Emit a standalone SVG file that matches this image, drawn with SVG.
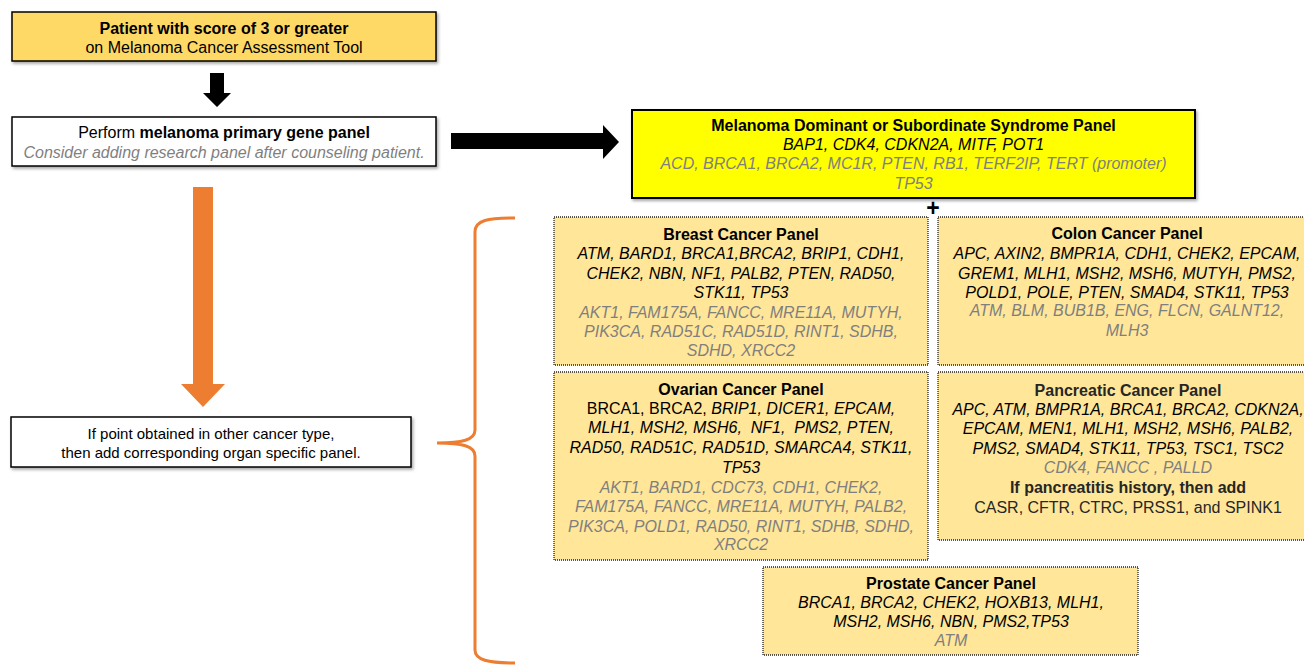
<svg xmlns="http://www.w3.org/2000/svg" width="1304" height="665" viewBox="0 0 1304 665">
<defs>
<filter id="sh" x="-5%" y="-20%" width="110%" height="150%">
<feDropShadow dx="1.5" dy="2" stdDeviation="1.5" flood-color="#000" flood-opacity="0.35"/>
</filter>
</defs>
<style>
text{font-family:"Liberation Sans",Arial,sans-serif;font-size:16px;fill:#000;text-anchor:middle}
.b{font-weight:bold}
.i{font-style:italic}
.g{fill:#7f7f7f}
.d{fill:#262626}
.flow{stroke:#000;stroke-width:1.5}
.panel{fill:#FFE699;stroke:#222;stroke-width:1.3;stroke-dasharray:1 1}
</style>
<rect width="1304" height="665" fill="#fff"/>

<g id="connectors">
<polygon points="210,73 224,73 224,93 231,93 217,107 203,93 210,93" fill="#000"/>
<polygon points="451,133 603,133 603,125 619,142 603,159 603,149 451,149" fill="#000"/>
<polygon points="193,187 213,187 213,384 225,384 203,407 181,384 193,384" fill="#ED7D31"/>
<path d="M515,218 C488,218 475,220 475,232 L475,430 C475,440 462,443 437,443 C462,443 475,446 475,456 L475,650 C475,660 488,663 515,663" fill="none" stroke="#ED7D31" stroke-width="3"/>
<text class="b" x="933" y="216" style="font-size:23px">+</text>
</g>

<g id="start">
<rect x="12" y="12" width="424" height="49" fill="#FFD966" class="flow" filter="url(#sh)"/>
<text class="b" x="224" y="34">Patient with score of 3 or greater</text>
<text x="224" y="53">on Melanoma Cancer Assessment Tool</text>
</g>

<g id="primary">
<rect x="12" y="117" width="424" height="49" fill="#fff" class="flow" filter="url(#sh)"/>
<text x="224" y="138">Perform <tspan class="b">melanoma primary gene panel</tspan></text>
<text class="i g" x="224" y="158">Consider adding research panel after counseling patient.</text>
</g>

<g id="organ">
<rect x="11" y="417" width="400" height="50" fill="#fff" class="flow" filter="url(#sh)"/>
<text x="211" y="439" style="font-size:15px">If point obtained in other cancer type,</text>
<text x="211" y="458" style="font-size:15px">then add corresponding organ specific panel.</text>
</g>

<g id="melanoma">
<rect x="632" y="110" width="563" height="88" fill="#FFFF00" stroke="#000" stroke-width="2" filter="url(#sh)"/>
<text class="b" x="913.5" y="131">Melanoma Dominant or Subordinate Syndrome Panel</text>
<text class="i" x="913.5" y="150">BAP1, CDK4, CDKN2A, MITF, POT1</text>
<text class="i g" x="913.5" y="169">ACD, BRCA1, BRCA2, MC1R, PTEN, RB1, TERF2IP, TERT (promoter)</text>
<text class="i g" x="913.5" y="189">TP53</text>
</g>

<g id="breast">
<rect x="554" y="217" width="374" height="148" class="panel"/>
<text class="b" x="741" y="240">Breast Cancer Panel</text>
<text class="i" x="741" y="259">ATM, BARD1, BRCA1,BRCA2, BRIP1, CDH1,</text>
<text class="i" x="741" y="279">CHEK2, NBN, NF1, PALB2, PTEN, RAD50,</text>
<text class="i" x="741" y="298">STK11, TP53</text>
<text class="i g" x="741" y="318">AKT1, FAM175A, FANCC, MRE11A, MUTYH,</text>
<text class="i g" x="741" y="337">PIK3CA, RAD51C, RAD51D, RINT1, SDHB,</text>
<text class="i g" x="741" y="356">SDHD, XRCC2</text>
</g>

<g id="colon">
<rect x="938" y="217" width="378" height="148" class="panel"/>
<text class="b" x="1127" y="239">Colon Cancer Panel</text>
<text class="i" x="1127" y="259">APC, AXIN2, BMPR1A, CDH1, CHEK2, EPCAM,</text>
<text class="i" x="1127" y="279">GREM1, MLH1, MSH2, MSH6, MUTYH, PMS2,</text>
<text class="i" x="1127" y="298">POLD1, POLE, PTEN, SMAD4, STK11, TP53</text>
<text class="i g" x="1127" y="316">ATM, BLM, BUB1B, ENG, FLCN, GALNT12,</text>
<text class="i g" x="1127" y="336">MLH3</text>
</g>

<g id="ovarian">
<rect x="554" y="372" width="374" height="188" class="panel"/>
<text class="b" x="741" y="395">Ovarian Cancer Panel</text>
<text x="741" y="414">BRCA1, BRCA2, <tspan class="i">BRIP1, DICER1, EPCAM,</tspan></text>
<text class="i" x="741" y="433" xml:space="preserve">MLH1, MSH2, MSH6,  NF1,  PMS2, PTEN,</text>
<text class="i" x="741" y="453">RAD50, RAD51C, RAD51D, SMARCA4, STK11,</text>
<text class="i" x="741" y="473">TP53</text>
<text class="i g" x="741" y="493">AKT1, BARD1, CDC73, CDH1, CHEK2,</text>
<text class="i g" x="741" y="512">FAM175A, FANCC, MRE11A, MUTYH, PALB2,</text>
<text class="i g" x="741" y="532">PIK3CA, POLD1, RAD50, RINT1, SDHB, SDHD,</text>
<text class="i g" x="741" y="550">XRCC2</text>
</g>

<g id="pancreatic">
<rect x="938" y="372" width="378" height="168" class="panel"/>
<text class="b d" x="1128" y="396">Pancreatic Cancer Panel</text>
<text class="i" x="1128" y="415">APC, ATM, BMPR1A, BRCA1, BRCA2, CDKN2A,</text>
<text class="i" x="1128" y="434">EPCAM, MEN1, MLH1, MSH2, MSH6, PALB2,</text>
<text class="i" x="1128" y="454">PMS2, SMAD4, STK11, TP53, TSC1, TSC2</text>
<text class="i g" x="1128" y="473" xml:space="preserve">CDK4, FANCC , PALLD</text>
<text class="b d" x="1128" y="493">If pancreatitis history, then add</text>
<text class="d" x="1128" y="513">CASR, CFTR, CTRC, PRSS1, and SPINK1</text>
</g>

<g id="prostate">
<rect x="763" y="567" width="375" height="88" class="panel"/>
<text class="b" x="951" y="589">Prostate Cancer Panel</text>
<text class="i" x="951" y="608">BRCA1, BRCA2, CHEK2, HOXB13, MLH1,</text>
<text class="i" x="951" y="627">MSH2, MSH6, NBN, PMS2,TP53</text>
<text class="i g" x="951" y="646">ATM</text>
</g>
</svg>
